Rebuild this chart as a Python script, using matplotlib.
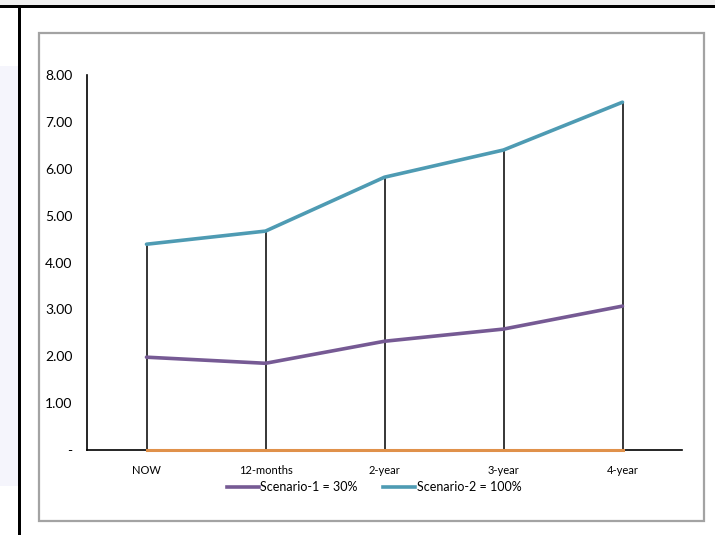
import matplotlib.pyplot as plt
from matplotlib.patches import Rectangle
from matplotlib.lines import Line2D

plt.rcParams['font.family'] = ['Lato', 'DejaVu Sans']

periods = ['NOW', '12-months', '2-year', '3-year', '4-year']
scenario_1 = [1.98, 1.85, 2.32, 2.58, 3.07]
scenario_2 = [4.39, 4.67, 5.82, 6.40, 7.42]
baseline = [0, 0, 0, 0, 0]
y_ticks = [0, 1, 2, 3, 4, 5, 6, 7, 8]
y_labels = ['-', '1.00', '2.00', '3.00', '4.00', '5.00', '6.00', '7.00', '8.00']

W, H = 715, 535
fig = plt.figure(figsize=(W / 100, H / 100), dpi=100)
fig.patch.set_facecolor('white')


def box(x0, y0, x1, y1):
    # pixel box (top-left origin) -> figure fraction rect
    return (x0 / W, 1 - y1 / H), (x1 - x0) / W, (y1 - y0) / H


# page surroundings
for (x0, y0, x1, y1, fc) in [(0, 0, W, 5, '#efefef'),
                             (0, 66, 18, 486, '#f5f5fc'),
                             (0, 5, W, 8, 'black'),
                             (18, 8, 21, H, 'black')]:
    xy, w, h = box(x0, y0, x1, y1)
    fig.patches.append(Rectangle(xy, w, h, transform=fig.transFigure,
                                 facecolor=fc, edgecolor='none', zorder=-2))

# chart area frame
xy, w, h = box(39, 33, 704, 521)
fig.patches.append(Rectangle(xy, w, h, transform=fig.transFigure,
                             facecolor='white', edgecolor='#a3a3a3',
                             linewidth=1.6, zorder=-1))

xy, w, h = box(87, 75, 682, 450)
ax = fig.add_axes([xy[0], xy[1], w, h])
ax.set_facecolor('none')

x = range(len(periods))
ax.vlines(x, 0, scenario_2, color='black', linewidth=1.1, zorder=2)
ax.plot(x, scenario_1, color='#765A94', linewidth=2.6, zorder=3,
        solid_capstyle='round')
ax.plot(x, scenario_2, color='#4E9BB3', linewidth=2.6, zorder=3,
        solid_capstyle='round')
ax.plot(x, baseline, color='#E0914A', linewidth=2.2, zorder=4,
        clip_on=False)

ax.set_xlim(-0.5, len(periods) - 0.5)
ax.set_ylim(0, 8)
ax.set_xticks(list(x))
ax.set_xticklabels(periods, fontsize=8)
ax.set_yticks(y_ticks)
ax.set_yticklabels(y_labels, fontsize=10)
ax.tick_params(axis='x', length=0, pad=11)
ax.tick_params(axis='y', length=0, pad=10.5)

for side in ['top', 'right']:
    ax.spines[side].set_visible(False)
ax.spines['left'].set_linewidth(1.2)
ax.spines['bottom'].set_linewidth(1.2)

handles = [Line2D([], [], color='#765A94', linewidth=2.6),
           Line2D([], [], color='#4E9BB3', linewidth=2.6)]
fig.legend(handles, ['Scenario-1 = 30%', 'Scenario-2 = 100%'],
           loc='center', bbox_to_anchor=(374 / W, 1 - 487 / H), ncol=2,
           frameon=False, fontsize=9, handlelength=2.6, handletextpad=0.1,
           columnspacing=2.0)

fig.savefig('out.png', dpi=100)
